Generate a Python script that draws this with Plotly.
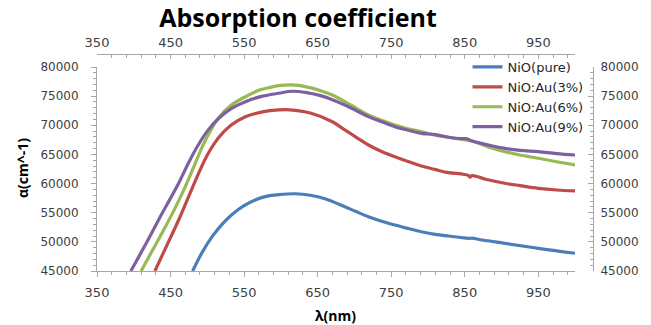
import plotly.graph_objects as go

# ---- data ----
wl_pure = [480, 493, 506.5, 520, 533.6, 550, 565, 580, 597, 620, 640, 660, 687, 703, 719, 737,
           755, 773, 791, 810, 828, 845, 855, 860, 870, 904.5, 950, 1000]
a_pure = [45000, 48200, 50890, 53000, 54700, 56200, 57180, 57800, 58100, 58250, 58000, 57400,
          56030, 55150, 54320, 53550, 52890, 52300, 51740, 51280, 51000, 50750, 50600, 50650, 50400,
          49750, 48890, 48040]

wl_au3 = [428.7, 445, 461, 475, 488, 500, 515.5, 532, 551.7, 575, 597, 612, 640, 670, 687, 703,
          719, 737, 755, 773, 791, 810, 828, 845, 855, 857, 860, 880, 904.5, 925, 950, 975, 1000]
a_au3 = [45000, 49400, 53750, 57900, 61700, 64900, 67900, 70000, 71480, 72300, 72630, 72650, 72100,
         70600, 69200, 67900, 66620, 65500, 64610, 63800, 63020, 62400, 61870, 61650, 61400,
         61100, 61350, 60700, 60050, 59650, 59190, 58900, 58730]

wl_au6 = [410, 427, 443, 457, 470, 482, 493, 504, 515.5, 533, 551.7, 570, 583, 597, 615, 635, 655, 670,
          687, 703, 719, 737, 755, 773, 791, 810, 828, 845, 855, 860, 882, 904.5, 925, 950, 975, 1000]
a_au6 = [45000, 48900, 52600, 56000, 59470, 63000, 66300, 69000, 71300, 73500, 74900, 76000, 76450,
         76800, 76920, 76600, 75900, 75200, 74050, 72900, 71770, 70850, 70050, 69400, 68900, 68300,
         67940, 67600, 67400, 67300, 66280, 65470, 64900, 64340, 63750, 63190]

wl_au9 = [396, 418, 438.6, 450, 461, 475, 488, 500, 515.5, 533, 551.7, 575, 597, 615, 635, 655, 670,
          687, 703, 719, 737, 755, 773, 791, 810, 828, 845, 852, 860, 882, 904.5, 925, 950, 975, 1000]
a_au9 = [45000, 50000, 54900, 57500, 60050, 63700, 66700, 69000, 71200, 72900, 74050, 75000, 75490,
         75840, 75600, 75050, 74400, 73480, 72500, 71480, 70600, 69760, 69150, 68620, 68400, 67940,
         67700, 67700, 67300, 66620, 66050, 65700, 65470, 65150, 64900]

names = ["NiO(pure)", "NiO:Au(3%)", "NiO:Au(6%)", "NiO:Au(9%)"]
colors = ["#4A7EBB", "#BE4B48", "#98B954", "#7D60A0"]
series = [(wl_pure, a_pure), (wl_au3, a_au3), (wl_au6, a_au6), (wl_au9, a_au9)]

x_range = [350, 1000]
y_range = [45000, 80000]

fig = go.Figure()
for (wx, wy), n, c in zip(series, names, colors):
    fig.add_trace(go.Scatter(x=wx, y=wy, name=n, mode="lines",
                             line=dict(color=c, width=3.2, shape="spline", smoothing=1.0),
                             hoverinfo="skip"))

# invisible trace to create the secondary (top/right) axes
fig.add_trace(go.Scatter(x=wl_pure[:1], y=a_pure[:1], xaxis="x2", yaxis="y2", mode="lines",
                         line=dict(width=0), showlegend=False, hoverinfo="skip"))

axis_color = "#A6A6A6"
tick_font = dict(family="DejaVu Sans", size=13, color="#404040")
ytick_font = dict(family="DejaVu Sans", size=12, color="#404040")

L, R, T, B = 97, 56, 54, 54
W, H = 651, 325
pw, ph = W - L - R, H - T - B
x_dom_end = (577 - L) / pw
y_dom_end = (271 - 67) / ph

fig.update_layout(
    width=W, height=H,
    margin=dict(l=L, r=R, t=T, b=B, pad=0),
    paper_bgcolor="white", plot_bgcolor="white",
    showlegend=True,
    title=dict(text="<b>Absorption coefficient</b>", x=298 / W, xanchor="center",
               y=1 - 18 / H, yanchor="middle", yref="container", xref="container",
               font=dict(family="Open Sans", size=25, color="#000000")),
    legend=dict(x=(469 - L) / pw, y=(271 - 52) / ph, xanchor="left", yanchor="top",
                bgcolor="rgba(0,0,0,0)", itemwidth=30, tracegroupgap=0,
                font=dict(family="DejaVu Sans", size=13, color="#262626")),
    xaxis=dict(domain=[0, x_dom_end], range=x_range, tickmode="linear", tick0=350, dtick=100,
               showgrid=False, zeroline=False, showline=True, linecolor=axis_color, linewidth=1,
               ticks="outside", ticklen=5, tickcolor=axis_color, tickfont=tick_font,
               ticklabelstandoff=4,
               minor=dict(dtick=20, tick0=350, ticks="outside", ticklen=3, tickcolor=axis_color),
               anchor="y"),
    yaxis=dict(domain=[0, y_dom_end], range=y_range, tickmode="linear", tick0=45000, dtick=5000,
               showgrid=False, zeroline=False, showline=True, linecolor=axis_color, linewidth=1,
               ticks="outside", ticklen=5, tickcolor=axis_color, tickfont=ytick_font,
               ticklabelstandoff=10, tickformat="d",
               minor=dict(dtick=1000, ticks="outside", ticklen=3, tickcolor=axis_color),
               anchor="x"),
    xaxis2=dict(overlaying="x", side="top", anchor="free", position=1, range=x_range,
                tickmode="linear", tick0=350, dtick=100, showgrid=False, zeroline=False,
                showline=True, linecolor=axis_color, linewidth=1, ticks="inside", ticklen=4,
                tickcolor=axis_color, tickfont=tick_font, ticklabelstandoff=2,
                minor=dict(dtick=20, tick0=350, ticks="inside", ticklen=3, tickcolor=axis_color)),
    yaxis2=dict(overlaying="y", side="right", anchor="free", position=1, range=y_range,
                tickmode="linear", tick0=45000, dtick=5000, showgrid=False, zeroline=False,
                showline=True, linecolor=axis_color, linewidth=1, ticks="inside", ticklen=5,
                tickcolor=axis_color, tickfont=ytick_font, ticklabelstandoff=4, tickformat="d",
                minor=dict(dtick=1000, ticks="inside", ticklen=3, tickcolor=axis_color)),
    annotations=[
        dict(text="<b>α(cm^-1)</b>", xref="paper", yref="paper",
             x=(21.7 - L) / pw, y=(271 - 168) / ph, xanchor="center", yanchor="middle",
             textangle=-90, showarrow=False,
             font=dict(family="Open Sans", size=14, color="#000000")),
        dict(text="<b>λ(nm)</b>", xref="paper", yref="paper",
             x=(336 - L) / pw, y=(271 - 315) / ph, xanchor="center", yanchor="middle",
             showarrow=False, font=dict(family="Open Sans", size=14, color="#000000")),
    ],
)

fig.write_html("out.html")
